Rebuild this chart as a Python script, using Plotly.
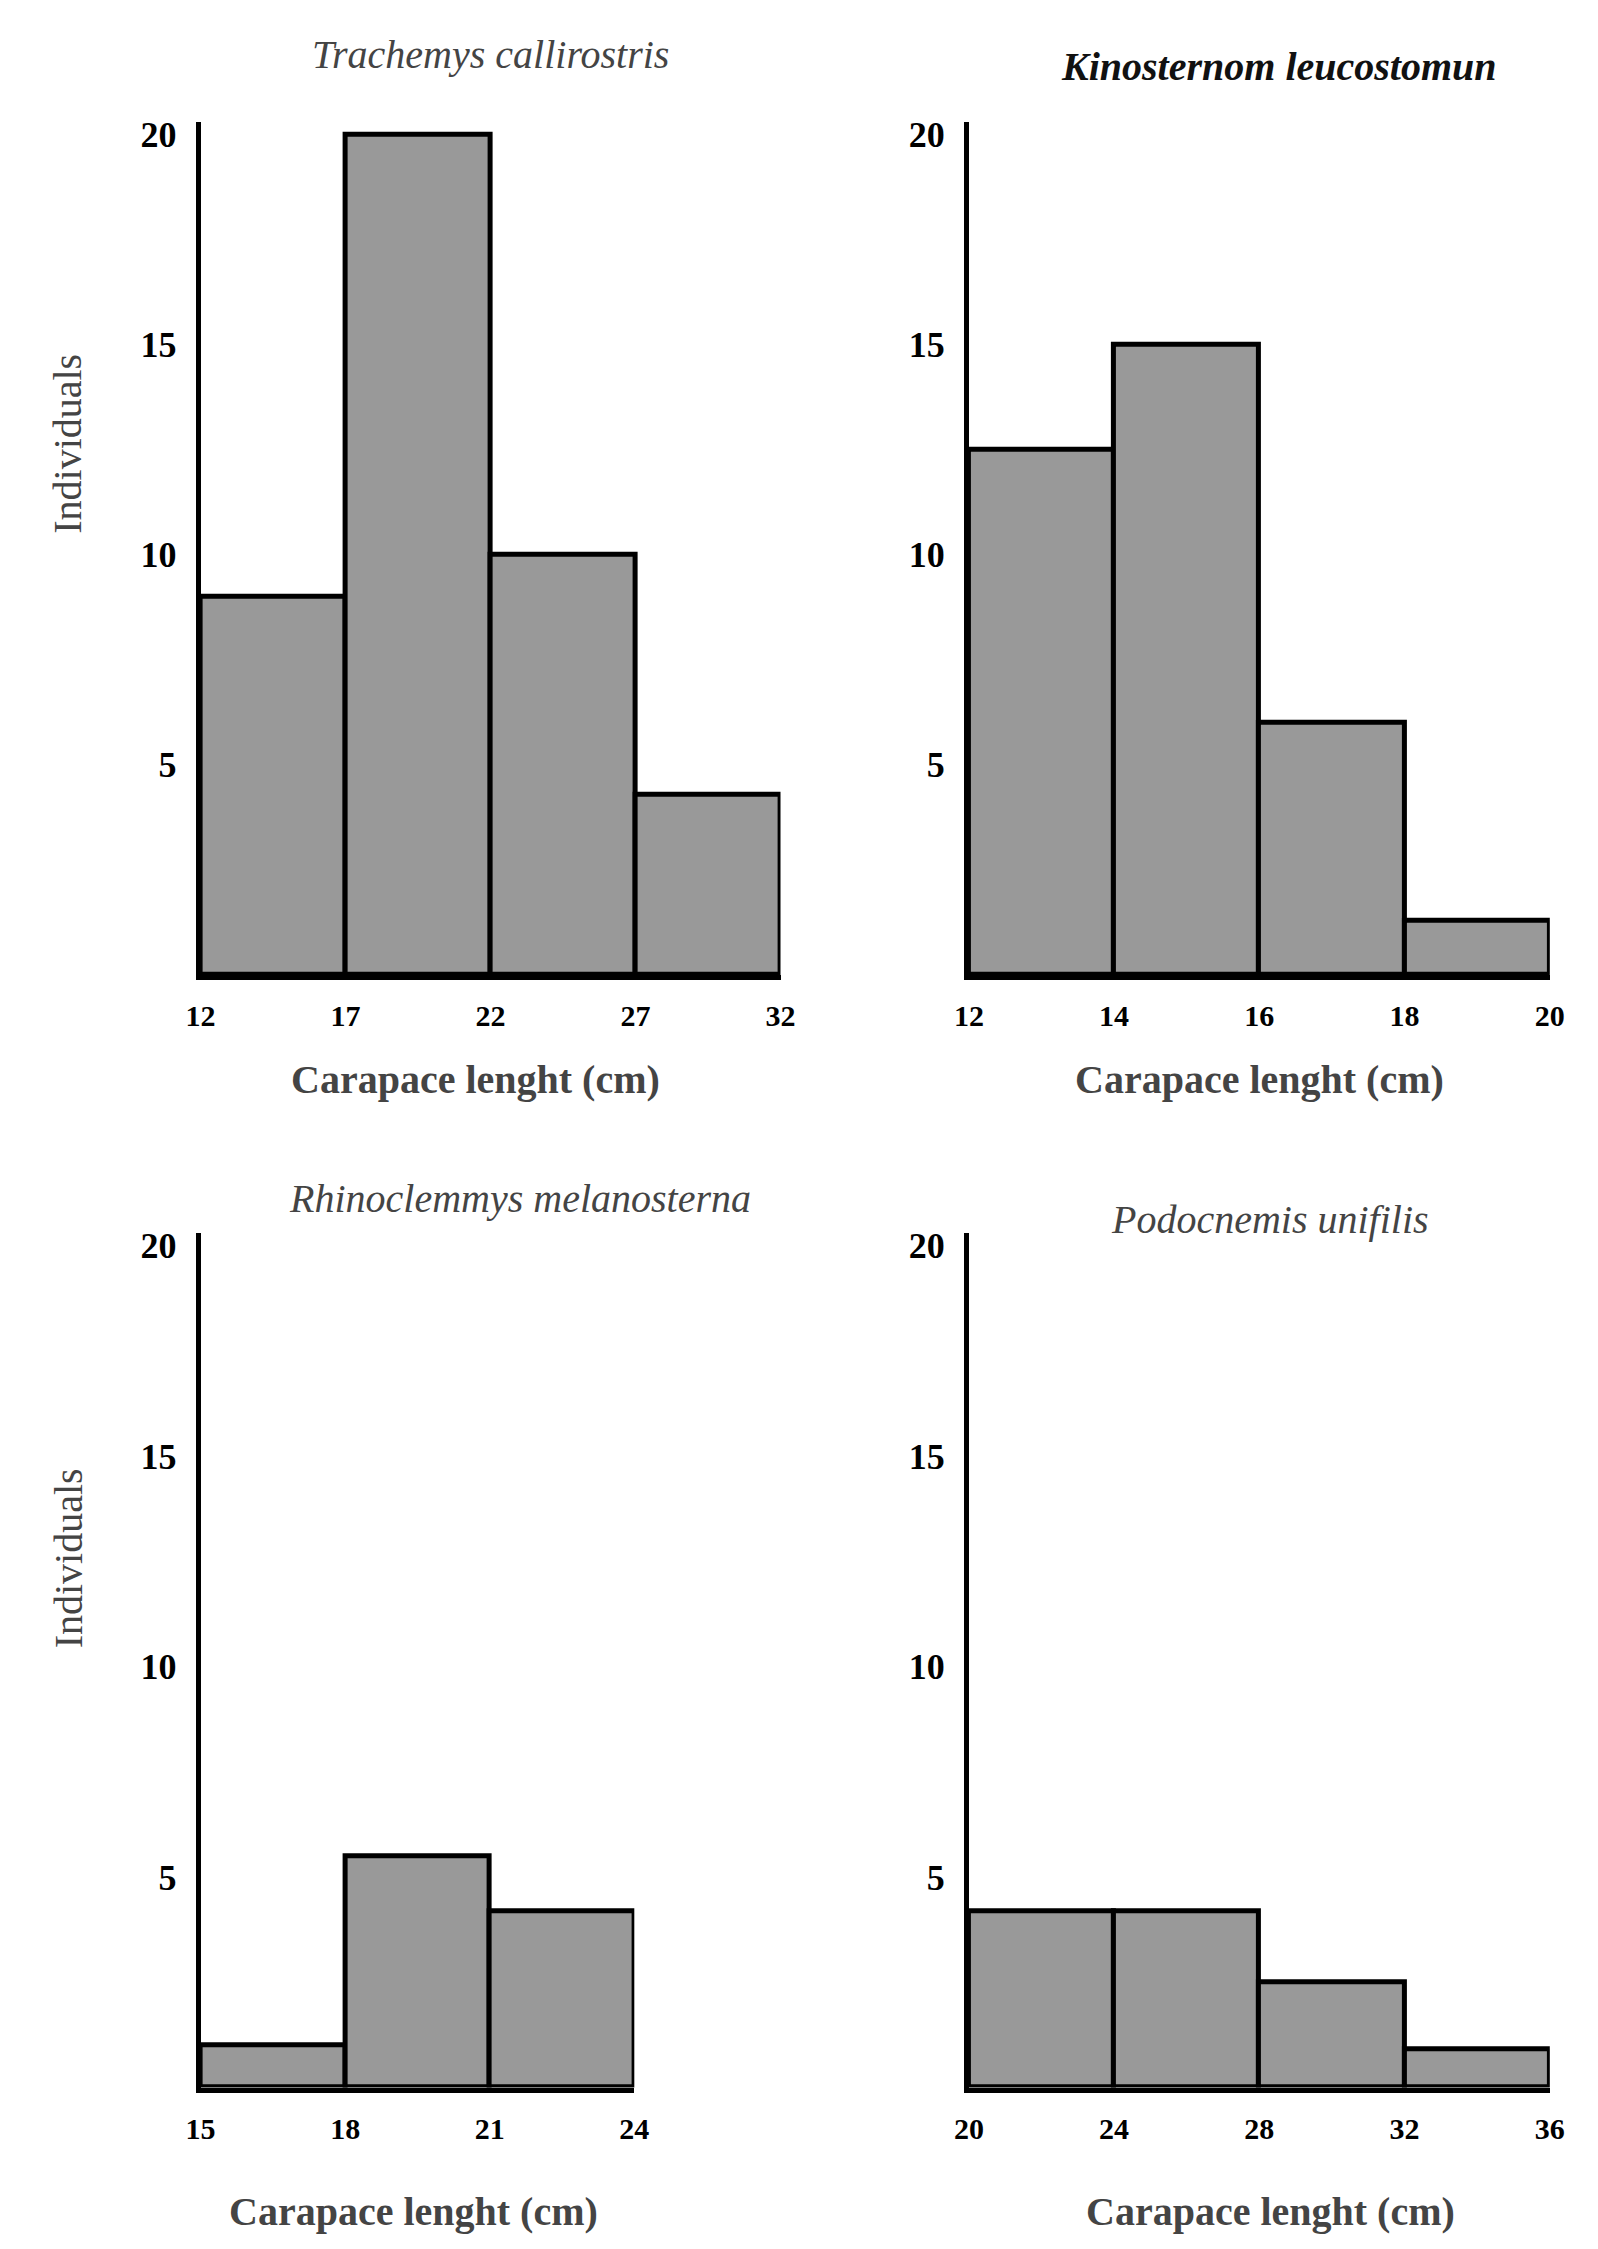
import plotly.graph_objects as go

W, H = 1598, 2249

# bin edges and counts per species
tc_edges = [12, 17, 22, 27, 32]
tc_counts = [9, 20, 10, 4.3]
kl_edges = [12, 14, 16, 18, 20]
kl_counts = [12.5, 15, 6, 1.3]
rm_edges = [15, 18, 21, 24]
rm_counts = [1, 5.5, 4.2]
pu_edges = [20, 24, 28, 32, 36]
pu_counts = [4.2, 4.2, 2.5, 0.9]

titles = ["Trachemys callirostris", "Kinosternom leucostomun",
          "Rhinoclemmys melanosterna", "Podocnemis unifilis"]
title_colors = ["#444444", "#111111", "#444444", "#444444"]
y_ticks = [5, 10, 15, 20]

panels = [(tc_edges, tc_counts), (kl_edges, kl_counts),
          (rm_edges, rm_counts), (pu_edges, pu_counts)]

# pixel boxes -> paper domains
xdoms = [(181 / W, 772 / W), (964 / W, 1556 / W), (181 / W, 623 / W), (964 / W, 1556 / W)]
ydoms = [(1 - 963 / H, 1 - 107 / H), (1 - 2079 / H, 1 - 1222 / H)]

serif = "Liberation Serif"
fig = go.Figure()
layout = {}
for i, (edges, counts) in enumerate(panels):
    n = i + 1
    xa = "x" if n == 1 else f"x{n}"
    ya = "y" if n == 1 else f"y{n}"
    centers = [(a + b) / 2 for a, b in zip(edges[:-1], edges[1:])]
    widths = [b - a for a, b in zip(edges[:-1], edges[1:])]
    fig.add_trace(go.Bar(x=centers, y=counts, width=widths, xaxis=xa, yaxis=ya,
                         marker=dict(color="#999999", line=dict(color="black", width=5)),
                         showlegend=False))
    row = i // 2
    layout["xaxis" if n == 1 else f"xaxis{n}"] = dict(
        domain=xdoms[i], anchor=ya, range=[edges[0], edges[-1]],
        tickvals=edges, showline=True, linecolor="black", linewidth=5,
        showgrid=False, zeroline=False, ticks="", ticklabelstandoff=10,
        tickfont=dict(family=serif, size=30, color="black", weight="bold"))
    layout["yaxis" if n == 1 else f"yaxis{n}"] = dict(
        domain=ydoms[row], anchor=xa, range=[0, 20.3],
        tickvals=y_ticks, showline=True, linecolor="black", linewidth=5,
        showgrid=False, zeroline=False, ticks="", ticklabelstandoff=12,
        tickfont=dict(family=serif, size=36, color="black", weight="bold"))

annots = []
title_pos = [(476, 40), (1280, 52), (506, 1187), (1271, 1208)]
for t, c, (px, py) in zip(titles, title_colors, title_pos):
    annots.append(dict(text=t, x=px / W, y=1 - py / H, xref="paper", yref="paper",
                       xanchor="center", yanchor="middle", showarrow=False,
                       font=dict(family=serif, size=40, color=c, style="italic",
                                 weight="bold" if c == "#111111" else "normal")))
for px, py in [(461, 1068), (1260, 1068), (398, 2203), (1271, 2203)]:
    annots.append(dict(text="Carapace lenght (cm)", x=px / W, y=1 - py / H, xref="paper",
                       yref="paper", xanchor="center", yanchor="middle", showarrow=False,
                       font=dict(family=serif, size=40, color="#444444", weight="bold")))
for py in [430, 1548]:
    annots.append(dict(text="Individuals", x=46 / W, y=1 - py / H, xref="paper", yref="paper",
                       xanchor="center", yanchor="middle", showarrow=False, textangle=-90,
                       font=dict(family=serif, size=40, color="#444444")))

fig.update_layout(width=W, height=H, margin=dict(l=0, r=0, t=0, b=0),
                  plot_bgcolor="white", paper_bgcolor="white", bargap=0,
                  annotations=annots, **layout)
fig.write_html("out.html")
